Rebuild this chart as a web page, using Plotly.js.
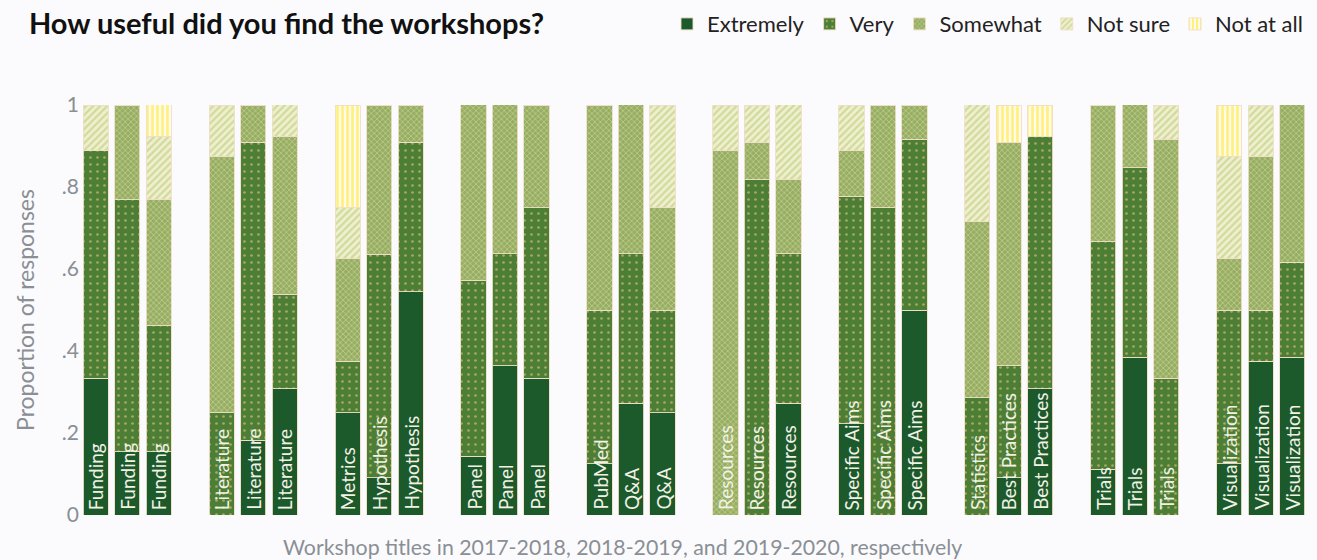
<!DOCTYPE html>
<html>
<head>
<meta charset="utf-8">
<script src="https://cdn.plot.ly/plotly-3.0.1.min.js"></script>
<style>
  html, body { margin: 0; padding: 0; background: #fbfbfd; }
  #chart { width: 1317px; height: 560px; }
</style>
</head>
<body>
<div id="chart"></div>
<script>
// Workshop bar labels (three years per workshop group)
const workshops = [
  "Funding", "Funding", "Funding",
  "Literature", "Literature", "Literature",
  "Metrics", "Hypothesis", "Hypothesis",
  "Panel", "Panel", "Panel",
  "PubMed", "Q&A", "Q&A",
  "Resources", "Resources", "Resources",
  "Specific Aims", "Specific Aims", "Specific Aims",
  "Statistics", "Best Practices", "Best Practices",
  "Trials", "Trials", "Trials",
  "Visualization", "Visualization", "Visualization"
];

// Proportion of responses per category
const extremely = [0.333, 0.154, 0.154, 0, 0.182, 0.308, 0.25, 0.091, 0.545, 0.143, 0.364, 0.333, 0.125, 0.273, 0.25,
                   0, 0, 0.273, 0.222, 0, 0.5, 0, 0.091, 0.308, 0.111, 0.385, 0, 0.125, 0.375, 0.385];
const very      = [0.556, 0.615, 0.308, 0.25, 0.727, 0.231, 0.125, 0.545, 0.364, 0.429, 0.273, 0.417, 0.375, 0.364, 0.25,
                   0, 0.818, 0.364, 0.556, 0.75, 0.417, 0.286, 0.273, 0.615, 0.556, 0.462, 0.333, 0.375, 0.125, 0.231];
const somewhat  = [0, 0.231, 0.308, 0.625, 0.091, 0.385, 0.25, 0.364, 0.091, 0.429, 0.364, 0.25, 0.5, 0.364, 0.25,
                   0.889, 0.091, 0.182, 0.111, 0.25, 0.083, 0.429, 0.545, 0, 0.333, 0.154, 0.583, 0.125, 0.375, 0.385];
const notSure   = [0.111, 0, 0.154, 0.125, 0, 0.077, 0.125, 0, 0, 0, 0, 0, 0, 0, 0.25,
                   0.111, 0.091, 0.182, 0.111, 0, 0, 0.286, 0, 0, 0, 0, 0.083, 0.25, 0.125, 0];
const notAtAll  = [0, 0, 0.077, 0, 0, 0, 0.25, 0, 0, 0, 0, 0, 0, 0, 0,
                   0, 0, 0, 0, 0, 0, 0, 0.091, 0.077, 0, 0, 0, 0.125, 0, 0];

const seriesNames = ["Extremely", "Very", "Somewhat", "Not sure", "Not at all"];
const yTickVals = [0, 0.2, 0.4, 0.6, 0.8, 1];
const yTickText = ["0", ".2", ".4", ".6", ".8", "1"];

const titleText = "How useful did you find the workshops?";
const xTitleText = "Workshop titles in 2017-2018, 2018-2019, and 2019-2020, respectively";
const yTitleText = "Proportion of responses";

// positions: 3 bars per group, one empty slot between groups
const xpos = workshops.map((_, i) => Math.floor(i / 3) * 4 + (i % 3));

const FONT = "Lato, 'Open Sans', sans-serif";
const outline = { color: "rgba(240,222,200,0.9)", width: 1 };
const styles = [
  { color: "#1c5a2c", pattern: { shape: "" } },
  { color: "#4c7f35", pattern: { shape: ".", bgcolor: "#4c7f35", fgcolor: "#a7a862", size: 7, solidity: 0.12 } },
  { color: "#9cb46e", pattern: { shape: "x", bgcolor: "#95ae64", fgcolor: "#cbd293", size: 4, solidity: 0.3 } },
  { color: "#e4e7b8", pattern: { shape: "/", bgcolor: "#eef0cf", fgcolor: "#d2da9b", size: 5, solidity: 0.45 } },
  { color: "#fff6a8", pattern: { shape: "|", bgcolor: "#fffbe8", fgcolor: "#fff07a", size: 5, solidity: 0.5 } }
];
const allSeries = [extremely, very, somewhat, notSure, notAtAll];

const traces = allSeries.map((vals, k) => ({
  type: "bar",
  name: seriesNames[k],
  x: xpos,
  y: vals,
  customdata: workshops,
  hovertemplate: "%{customdata}<br>" + seriesNames[k] + ": %{y:.2f}<extra></extra>",
  marker: Object.assign({ line: outline }, styles[k].pattern.shape ?
    { color: styles[k].color, pattern: styles[k].pattern } : { color: styles[k].color })
}));

const annotations = workshops.map((lab, i) => ({
  x: xpos[i], y: 0, xref: "x", yref: "y",
  text: lab, showarrow: false, textangle: -90,
  xanchor: "center", yanchor: "bottom", yshift: 3,
  font: { family: FONT, size: 19, color: "#f3f1e6" }
}));
annotations.push({
  xref: "paper", yref: "paper", x: 0.442, y: 0, yshift: -32,
  xanchor: "center", yanchor: "middle", showarrow: false,
  text: xTitleText,
  font: { family: FONT, size: 21.3, color: "#8a8f95" }
});

const layout = {
  width: 1317, height: 560,
  paper_bgcolor: "#fbfbfd", plot_bgcolor: "#fbfbfd",
  margin: { l: 80, r: 9, t: 105, b: 45, autoexpand: false },
  barmode: "stack", bargap: 0.2,
  font: { family: FONT, color: "#333" },
  title: {
    text: "<b>" + titleText + "</b>",
    x: 0.022, xanchor: "left", xref: "container",
    y: 0.958, yanchor: "middle", yref: "container",
    font: { family: FONT, size: 29, color: "#111", weight: 900 }
  },
  showlegend: true,
  legend: {
    orientation: "h", x: 1, xanchor: "right", xref: "paper",
    y: 0.957, yanchor: "middle", yref: "container",
    font: { size: 22, color: "#222" }, bgcolor: "rgba(0,0,0,0)",
    traceorder: "normal", itemwidth: 30
  },
  xaxis: {
    range: [-0.5, 38.5], showticklabels: false, showgrid: false,
    zeroline: false, showline: false, ticks: "", fixedrange: true
  },
  yaxis: {
    range: [0, 1], tickvals: yTickVals, ticktext: yTickText,
    showgrid: false, zeroline: false, showline: false, ticks: "",
    tickfont: { size: 21, color: "#8a8f95" },
    title: { text: yTitleText, standoff: 20, font: { size: 23, color: "#8a8f95" } }
  },
  annotations: annotations
};

Plotly.newPlot("chart", traces, layout, { displayModeBar: false, staticPlot: true });
</script>
</body>
</html>
